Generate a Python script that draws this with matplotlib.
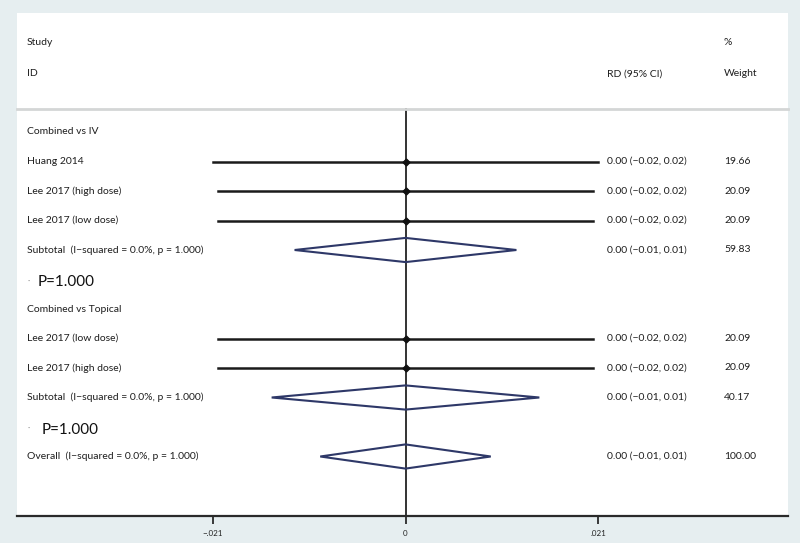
import matplotlib
matplotlib.use("Agg")
import matplotlib.pyplot as plt
from matplotlib.patches import Polygon
from matplotlib.transforms import blended_transform_factory

plt.rcParams['font.family'] = ['Lato', 'DejaVu Sans']

# ---- data ----
group_titles = ["Combined vs IV", "Combined vs Topical"]
study_names = ["Huang 2014", "Lee 2017 (high dose)", "Lee 2017 (low dose)",
               "Lee 2017 (low dose)", "Lee 2017 (high dose)"]
study_group = [0, 0, 0, 1, 1]
study_rd = [0.0, 0.0, 0.0, 0.0, 0.0]
study_lo = [-0.0210, -0.0205, -0.0205, -0.0205, -0.0205]
study_hi = [0.0210, 0.0205, 0.0205, 0.0205, 0.0205]
study_ci_text = ["0.00 (\u22120.02, 0.02)"] * 5
study_weight = ["19.66", "20.09", "20.09", "20.09", "20.09"]

pooled_labels = ["Subtotal  (I\u2212squared = 0.0%, p = 1.000)",
                 "Subtotal  (I\u2212squared = 0.0%, p = 1.000)",
                 "Overall  (I\u2212squared = 0.0%, p = 1.000)"]
pooled_rd = [0.0, 0.0, 0.0]
pooled_lo = [-0.0121, -0.0146, -0.0093]
pooled_hi = [0.0121, 0.0146, 0.0093]
pooled_ci_text = ["0.00 (\u22120.01, 0.01)"] * 3
pooled_weight = ["59.83", "40.17", "100.00"]

p_labels = ["P=1.000", "P=1.000"]

tick_vals = [-0.021, 0.0, 0.021]
tick_labels = ["\u2212.021", "0", ".021"]

# ---- layout ----
W, H = 800, 543
fig = plt.figure(figsize=(W / 100, H / 100), dpi=100, facecolor="#e6eef0")
left_px, right_px, top_px, bot_px = 17, 788, 13, 516
ax = fig.add_axes([left_px / W, 1 - bot_px / H, (right_px - left_px) / W, (bot_px - top_px) / H])
ax.set_facecolor("white")

px_per_unit = 192.5 / 0.021
zero_px = 405.5
ax.set_xlim((left_px - zero_px) / px_per_unit, (right_px - zero_px) / px_per_unit)
row0_px, row_h = 132, 29.5
ax.set_ylim((bot_px - row0_px) / row_h, (top_px - row0_px) / row_h)

for s in ["top", "left", "right"]:
    ax.spines[s].set_visible(False)
ax.spines["bottom"].set_color("#2a2a2a")
ax.spines["bottom"].set_linewidth(1.6)
ax.set_yticks([])
ax.set_xticks(tick_vals)
ax.set_xticklabels(tick_labels, fontsize=5.8, color="#222222")
ax.tick_params(axis="x", length=6, width=1.3, color="#2a2a2a", pad=4)

tr = blended_transform_factory(ax.transAxes, ax.transData)
fs = 7.5
x_lab = (27 - left_px) / (right_px - left_px)
x_ci = (607 - left_px) / (right_px - left_px)
x_w = (724 - left_px) / (right_px - left_px)
tc = "#1e1e1e"

# header
ax.text(x_lab, -3.02, "Study", transform=tr, fontsize=fs, va="center", color=tc)
ax.text(x_lab, -1.97, "ID", transform=tr, fontsize=fs, va="center", color=tc)
ax.text(x_ci, -1.97, "RD (95% CI)", transform=tr, fontsize=fs, va="center", color=tc)
ax.text(x_w, -3.02, "%", transform=tr, fontsize=fs, va="center", color=tc)
ax.text(x_w, -1.97, "Weight", transform=tr, fontsize=fs, va="center", color=tc)
ax.plot([0, 1], [-0.78, -0.78], transform=tr, color="#d4d6d6", lw=2, clip_on=False)

# rows
rows_study = [1, 2, 3, 7, 8]
rows_group = [0, 6]
rows_pooled = [4, 9, 11]
rows_p = [5.1, 10.1]

ax.plot([0, 0], [-0.78, 13.1], color="#333333", lw=1.4, zorder=1)

for r, t in zip(rows_group, group_titles):
    ax.text(x_lab, r, t, transform=tr, fontsize=fs, va="center", color=tc)

for i, r in enumerate(rows_study):
    ax.text(x_lab, r, study_names[i], transform=tr, fontsize=fs, va="center", color=tc)
    ax.plot([study_lo[i], study_hi[i]], [r, r], color="#1a1a1a", lw=1.8, zorder=2)
    ax.plot([study_rd[i]], [r], marker="D", ms=3.5, color="#111111", zorder=3)
    ax.text(x_ci, r, study_ci_text[i], transform=tr, fontsize=fs, va="center", color=tc)
    ax.text(x_w, r, study_weight[i], transform=tr, fontsize=fs, va="center", color=tc)

for i, r in enumerate(rows_pooled):
    ax.text(x_lab, r, pooled_labels[i], transform=tr, fontsize=fs, va="center", color=tc)
    d = 0.41
    poly = Polygon([[pooled_lo[i], r], [pooled_rd[i], r - d], [pooled_hi[i], r], [pooled_rd[i], r + d]],
                   closed=True, fill=False, edgecolor="#2e3868", lw=1.5, zorder=3)
    ax.add_patch(poly)
    ax.text(x_ci, r, pooled_ci_text[i], transform=tr, fontsize=fs, va="center", color=tc)
    ax.text(x_w, r, pooled_weight[i], transform=tr, fontsize=fs, va="center", color=tc)

x_dot = (28 - left_px) / (right_px - left_px)
for j, (r, t) in enumerate(zip(rows_p, p_labels)):
    xp = ((38 if j == 0 else 42) - left_px) / (right_px - left_px)
    ax.text(x_dot, r - 0.05, "\u00b7", transform=tr, fontsize=6, va="center", color="#888888")
    ax.text(xp, r, t, transform=tr, fontsize=11, va="center", color="#111111")

fig.savefig("out.png", dpi=100, facecolor=fig.get_facecolor())
